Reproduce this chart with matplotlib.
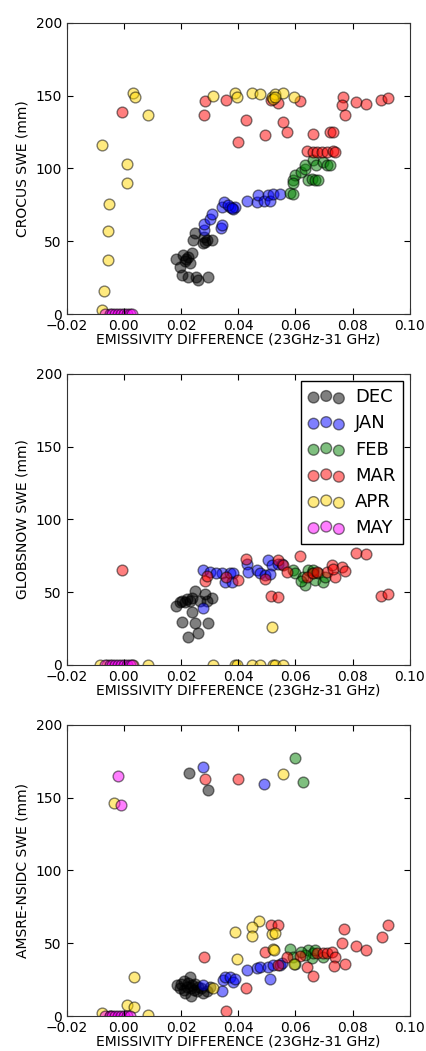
import matplotlib
matplotlib.use("Agg")
import matplotlib.pyplot as plt
import numpy as np

Months = ["DEC", "JAN", "FEB", "MAR", "APR", "MAY"]
Colors = ["black", "blue", "green", "red", "gold", "magenta"]

# ---- CROCUS panel (x = emissivity difference, y = SWE mm)
crocus_dec = [(0.0184, 38), (0.0208, 40.5), (0.0225, 39), (0.0237, 42), (0.0214, 36.6), (0.023, 35),
              (0.0196, 32.5), (0.0219, 38), (0.0249, 56), (0.0243, 51), (0.0278, 48.5), (0.029, 51),
              (0.0307, 51), (0.028, 53), (0.0202, 27), (0.0225, 25.6), (0.0251, 25.6), (0.026, 23.3),
              (0.0295, 25.6), (0.0285, 49.5)]
crocus_jan = [(0.028, 57.7), (0.028, 61.8), (0.0301, 65), (0.0307, 68.6), (0.0342, 73.7), (0.0351, 76.9),
              (0.0371, 73.7), (0.0383, 72.5), (0.0388, 73.7), (0.0339, 58.8), (0.0342, 61), (0.0429, 77.8),
              (0.0464, 77), (0.047, 81.7), (0.049, 77.8), (0.0505, 81.7), (0.0511, 77.8), (0.0522, 82.4),
              (0.0546, 82.8), (0.0365, 74.8), (0.0378, 72.8)]
crocus_feb = [(0.058, 83.3), (0.0592, 82.8), (0.0592, 92), (0.0598, 95.4), (0.0621, 97.7), (0.0633, 99.3),
              (0.0633, 102.3), (0.0645, 92), (0.0656, 93), (0.0668, 92), (0.068, 92), (0.0662, 105.7),
              (0.0673, 102.3), (0.0697, 104.6), (0.0709, 102.3), (0.072, 102.3), (0.0592, 89.7)]
crocus_mar = [(-0.0008, 139), (0.0283, 146.5), (0.028, 137), (0.0356, 147), (0.0427, 133), (0.040, 118),
              (0.0493, 123), (0.0555, 131.6), (0.0569, 125), (0.054, 145), (0.0513, 147), (0.0616, 146.5),
              (0.0662, 123.6), (0.072, 125), (0.073, 125), (0.0767, 149), (0.0761, 143.5), (0.0773, 137),
              (0.0811, 145.8), (0.0846, 144.6), (0.0898, 147), (0.0924, 148.7), (0.0639, 112),
              (0.0662, 111.4), (0.0674, 111.4), (0.0691, 111.4), (0.0709, 111.4), (0.0732, 112), (0.0738, 111.4)]
crocus_apr = [(0.0033, 152), (0.0039, 149), (0.0083, 137), (-0.0078, 116), (0.0012, 103), (0.001, 90),
              (-0.0051, 75.5), (-0.0057, 57), (-0.0054, 37), (-0.007, 16), (-0.0076, 2.7), (0.031, 150),
              (0.0388, 152), (0.0396, 149), (0.0447, 152), (0.0476, 151.5), (0.0517, 149), (0.0528, 151.5),
              (0.0522, 148), (0.0557, 152), (0.0596, 149), (0.053, 149)]
crocus_may = [(-0.0065, 0), (-0.005, 0), (-0.004, 0), (-0.003, 0), (-0.002, 0), (-0.001, 0), (0.0, 0),
              (0.001, 0), (0.002, 0), (0.003, 0)]

# ---- GLOBSNOW panel
glob_dec = [(0.0184, 40.5), (0.0195, 43), (0.0205, 44), (0.0215, 43), (0.022, 45), (0.023, 44), (0.024, 46),
            (0.0249, 51), (0.0284, 49), (0.0307, 45.7), (0.0265, 44), (0.029, 44), (0.0237, 36.6),
            (0.0202, 29.7), (0.0249, 29), (0.0295, 28.6), (0.0225, 19.4), (0.026, 21.7)]
glob_jan = [(0.0278, 64.9), (0.0301, 63.8), (0.0342, 63), (0.0371, 63), (0.0383, 63), (0.0353, 57),
            (0.0378, 57), (0.0278, 38.9), (0.0429, 69.7), (0.0435, 64), (0.0464, 65), (0.0476, 63),
            (0.0505, 72), (0.0517, 68.6), (0.054, 69.7), (0.0552, 69.7), (0.0493, 61.7), (0.0511, 62.5),
            (0.0322, 63.5)]
glob_feb = [(0.0592, 65), (0.0598, 63), (0.0627, 60.6), (0.0633, 54.9), (0.0645, 65), (0.0656, 63),
            (0.0668, 58.3), (0.068, 63), (0.0697, 57), (0.0703, 60.6), (0.0662, 65.5), (0.0621, 58)]
glob_mar = [(-0.0008, 65), (0.0283, 58), (0.0289, 61), (0.0356, 60.6), (0.040, 58.3), (0.0427, 72.7),
            (0.0493, 59.4), (0.054, 72), (0.0555, 69), (0.0513, 47.3), (0.054, 46.9), (0.0616, 74.7),
            (0.0569, 64), (0.0639, 60.6), (0.0662, 63), (0.0674, 64), (0.0709, 64), (0.0726, 68.6),
            (0.0738, 60.6), (0.0761, 67), (0.0773, 64.5), (0.0811, 77), (0.0846, 76), (0.0898, 47.3),
            (0.0924, 49), (0.0732, 66)]
glob_apr = [(-0.0085, 0), (-0.006, 0), (0.0033, 0), (0.0083, 0), (0.031, 0), (0.0388, 0), (0.0396, 0),
            (0.0447, 0), (0.0476, 0), (0.0522, 0), (0.053, 0), (0.0557, 0), (0.0518, 26)]
glob_may = [(-0.0065, 0), (-0.005, 0), (-0.004, 0), (-0.003, 0), (-0.002, 0), (-0.001, 0), (0.0, 0),
            (0.001, 0), (0.002, 0), (0.003, 0)]

# ---- AMSRE-NSIDC panel
amsr_dec = [(0.0228, 167), (0.0295, 155), (0.0185, 21), (0.0195, 19), (0.020, 22), (0.021, 18),
            (0.0215, 16), (0.022, 20), (0.0225, 23), (0.023, 27), (0.0235, 14), (0.024, 21), (0.0245, 18),
            (0.025, 22), (0.0255, 17), (0.026, 20), (0.027, 19), (0.0278, 15.6), (0.029, 17), (0.030, 20),
            (0.021, 24), (0.0235, 19)]
amsr_jan = [(0.0278, 170.9), (0.049, 159.5), (0.0278, 21), (0.0342, 17.4), (0.0347, 25), (0.0353, 27),
            (0.0371, 27), (0.0383, 23.6), (0.0429, 31.6), (0.0464, 32.8), (0.0476, 34), (0.0505, 34),
            (0.0511, 25.2), (0.0522, 35), (0.0546, 35), (0.0552, 36.2), (0.0388, 25.5)]
amsr_feb = [(0.0598, 177), (0.0627, 161), (0.058, 45.8), (0.0592, 40.8), (0.0645, 45.4), (0.0656, 39.6),
            (0.0662, 43), (0.0697, 40.8), (0.0633, 42), (0.0598, 35.5), (0.0621, 44), (0.0668, 45)]
amsr_mar = [(0.0283, 162.9), (0.0398, 162.9), (0.028, 40.5), (0.0356, 3.4), (0.0427, 19), (0.0493, 43.8),
            (0.0513, 62.5), (0.054, 62.5), (0.054, 35), (0.0569, 40.8), (0.0616, 41), (0.0639, 34),
            (0.0662, 27.7), (0.0674, 43), (0.0697, 43.5), (0.0709, 43.5), (0.0726, 44), (0.0738, 40.8),
            (0.0735, 34.4), (0.0761, 50), (0.0773, 35.7), (0.077, 60), (0.0811, 48), (0.0846, 45.4),
            (0.0901, 54), (0.0924, 62.6)]
amsr_apr = [(-0.0033, 146), (0.0557, 166), (0.0473, 65.5), (0.0449, 61), (0.0447, 55), (0.0388, 58),
            (0.0517, 56), (0.0528, 57), (0.052, 46), (0.0526, 45), (0.0394, 39), (0.0596, 36), (0.0035, 27),
            (0.001, 7.5), (0.0035, 6.4), (-0.0078, 2.3), (0.0083, 0.7), (0.031, 19.5), (-0.005, 0)]
amsr_may = [(-0.002, 165), (-0.001, 145), (-0.0065, 0), (-0.005, 0), (-0.004, 0), (-0.003, 0),
            (-0.002, 0), (-0.001, 0), (0.0, 0), (0.001, 0), (0.002, 0)]

Panels = [
    ("CROCUS SWE (mm)", [crocus_dec, crocus_jan, crocus_feb, crocus_mar, crocus_apr, crocus_may]),
    ("GLOBSNOW SWE (mm)", [glob_dec, glob_jan, glob_feb, glob_mar, glob_apr, glob_may]),
    ("AMSRE-NSIDC SWE (mm)", [amsr_dec, amsr_jan, amsr_feb, amsr_mar, amsr_apr, amsr_may]),
]
AxesBottom = [0.7012, 0.3673, 0.0333]

plt.rcParams["font.size"] = 10
plt.rcParams["xtick.direction"] = "in"
plt.rcParams["ytick.direction"] = "in"
plt.rcParams["xtick.top"] = True
plt.rcParams["ytick.right"] = True
plt.rcParams["xtick.major.size"] = 4
plt.rcParams["ytick.major.size"] = 4

fig = plt.figure(figsize=(4.27, 10.51), dpi=100)

for i, (Label, Series) in enumerate(Panels):
    ax = fig.add_axes([0.156, AxesBottom[i], 0.804, 0.277])
    for Month, Color, Points in zip(Months, Colors, Series):
        Pts = np.array(Points)
        ax.scatter(Pts[:, 0], Pts[:, 1], s=60, c=Color, alpha=0.5,
                   edgecolors="black", linewidths=1, label=Month)
    ax.set_xlim(-0.02, 0.10)
    ax.set_ylim(0, 200)
    ax.set_xticks(np.arange(-0.02, 0.101, 0.02))
    ax.set_xticklabels(["\u22120.02", "0.00", "0.02", "0.04", "0.06", "0.08", "0.10"])
    ax.set_yticks([0, 50, 100, 150, 200])
    ax.set_xlabel("EMISSIVITY DIFFERENCE (23GHz-31 GHz)", labelpad=0)
    ax.set_ylabel(Label)
    for sp in ax.spines.values():
        sp.set_color("#333333")
    if i == 1:
        leg = ax.legend(loc="upper right", scatterpoints=3, fontsize=13, fancybox=False,
                        framealpha=1, edgecolor="black", labelspacing=0.45,
                        handletextpad=0.6, borderaxespad=0.4)
        leg.get_frame().set_linewidth(1)

fig.savefig("out.png", dpi=100)
